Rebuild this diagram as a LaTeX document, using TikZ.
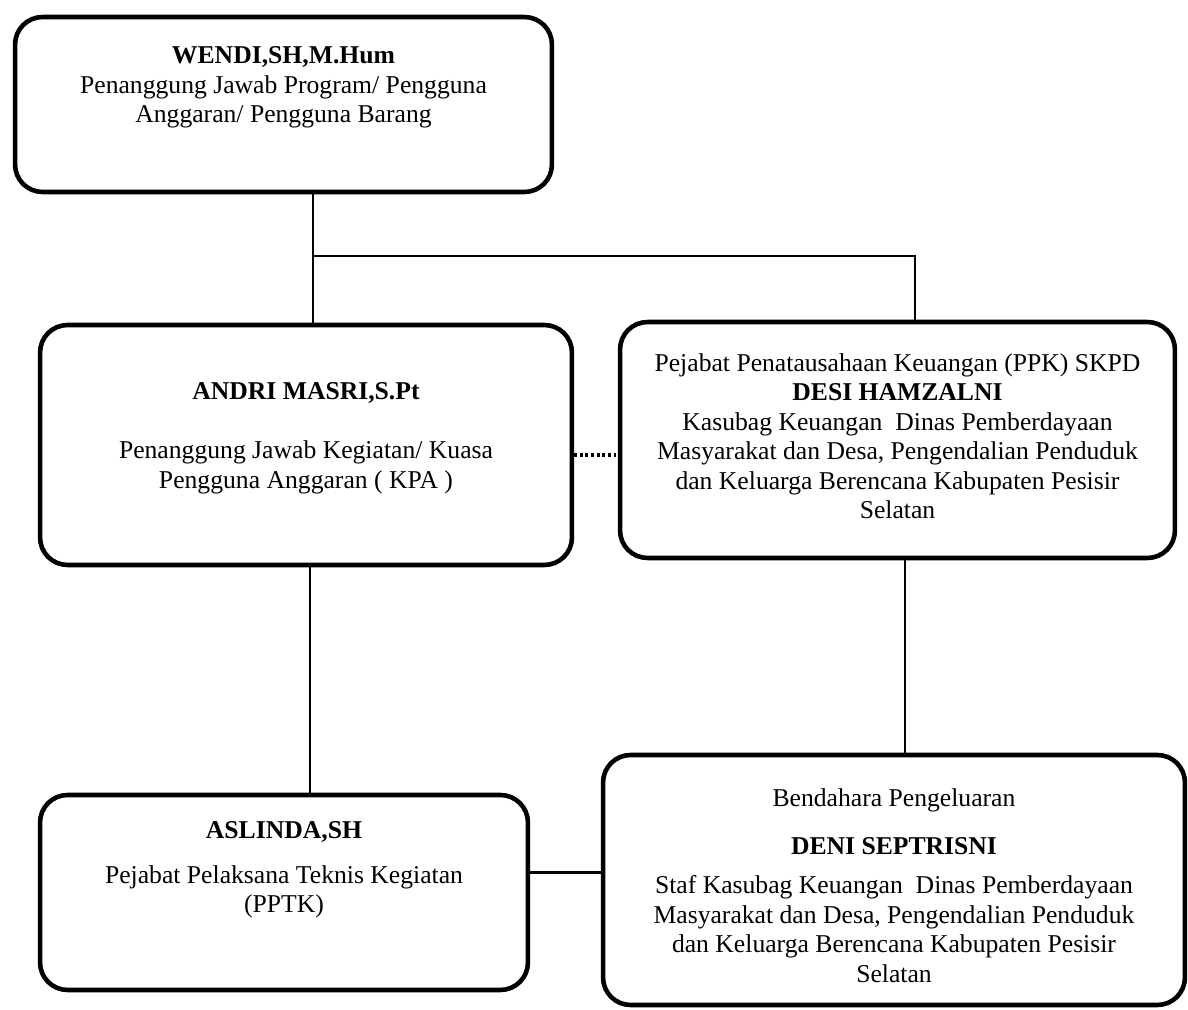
\documentclass[tikz,border=0pt]{standalone}
\usepackage{fontspec}
\setmainfont{Liberation Serif}
\usetikzlibrary{positioning}
\tikzset{
	box/.style={draw, line width=2.6pt, rounded corners=0.55cm, align=center, inner sep=0pt, font=\fontsize{14.6}{16.8}\selectfont},
	link/.style={line width=1.3pt},
	dots/.style={line width=1.8pt, dash pattern=on 1.6pt off 1.6pt}
}
\begin{document}
\begin{tikzpicture}[x=0.02cm, y=-0.02cm]
		\useasboundingbox (0,0) rectangle (1188,1010);
		\node[box, minimum width=10.74cm, minimum height=3.5cm] (wendi) at (283.5,104.5) {\textbf{WENDI,SH,M.Hum}\\Penanggung Jawab Program/ Pengguna\\Anggaran/ Pengguna Barang\\[0.2cm]};
		\node[box, minimum width=10.64cm, minimum height=4.8cm] (andri) at (306,445) {\textbf{ANDRI MASRI,S.Pt}\\[0.6cm]Penanggung Jawab Kegiatan/ Kuasa\\Pengguna Anggaran ( KPA )\\[-0.2cm]};
		\node[box, minimum width=11.1cm, minimum height=4.72cm] (desi) at (897.5,440) {Pejabat Penatausahaan Keuangan (PPK) SKPD\\\textbf{DESI HAMZALNI}\\Kasubag Keuangan\ \ Dinas Pemberdayaan\\Masyarakat dan Desa, Pengendalian Penduduk\\dan Keluarga Berencana Kabupaten Pesisir\\Selatan\\[-0.43cm]};
		\node[box, minimum width=9.76cm, minimum height=3.9cm] (aslinda) at (284,892.5) {\textbf{ASLINDA,SH}\\[0.3cm]Pejabat Pelaksana Teknis Kegiatan\\(PPTK)\\[0.42cm]};
		\node[box, minimum width=11.64cm, minimum height=5cm] (deni) at (894,880) {Bendahara Pengeluaran\\[0.36cm]\textbf{DENI SEPTRISNI}\\[0.2cm]Staf Kasubag Keuangan\ \ Dinas Pemberdayaan\\Masyarakat dan Desa, Pengendalian Penduduk\\dan Keluarga Berencana Kabupaten Pesisir\\Selatan\\[-0.82cm]};
		\coordinate (jct) at (313,256);
		\coordinate (jctr) at (915,256);
		\draw[link] (wendi.south -| jct) -- (andri.north -| jct);
		\draw[link] (jct) -- (jctr) -- (jctr |- desi.north);
		\draw[dots] ([yshift=-0.2cm]andri.east) -- ([yshift=-0.2cm]andri.east -| desi.west);
		\draw[link] ([xshift=0.08cm]andri.south) -- ([xshift=0.08cm]andri.south |- aslinda.north);
		\draw[link] ([xshift=0.15cm]desi.south) -- ([xshift=0.15cm]desi.south |- deni.north);
		\draw[link] ([yshift=0.4cm]aslinda.east) -- ([yshift=0.4cm]aslinda.east -| deni.west);
\end{tikzpicture}
\end{document}
